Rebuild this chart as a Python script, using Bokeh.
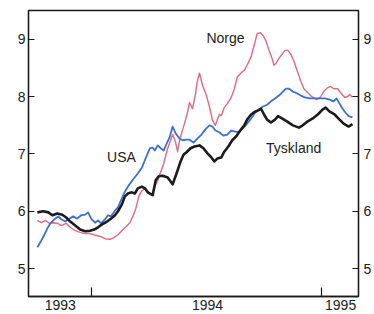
from bokeh.plotting import figure
from bokeh.models import Range1d, LinearAxis, FixedTicker, Label
from bokeh.embed import file_html
from bokeh.resources import INLINE

# ---- data (decimal years, interest rate %) ----
tysk_t = [1992.534, 1992.586, 1992.629, 1992.664, 1992.707, 1992.750, 1992.784, 1992.819, 1992.862, 1992.905,
          1992.948, 1992.991, 1993.026, 1993.060, 1993.095, 1993.138, 1993.172, 1993.207, 1993.233, 1993.267,
          1993.293, 1993.319, 1993.353, 1993.379, 1993.405, 1993.440, 1993.466, 1993.491, 1993.534, 1993.560,
          1993.586, 1993.621, 1993.664, 1993.707, 1993.741, 1993.776, 1993.802, 1993.828, 1993.862, 1993.897,
          1993.940, 1993.974, 1994.009, 1994.043, 1994.069, 1994.095, 1994.129, 1994.155, 1994.190, 1994.224,
          1994.259, 1994.293, 1994.328, 1994.353, 1994.388, 1994.422, 1994.448, 1994.474, 1994.500, 1994.526,
          1994.560, 1994.595, 1994.621, 1994.655, 1994.698, 1994.750, 1994.802, 1994.836, 1994.879, 1994.922,
          1994.966, 1995.009, 1995.034, 1995.069, 1995.112, 1995.155, 1995.190, 1995.233, 1995.267]
tysk_v = [5.98, 6.00, 5.98, 5.93, 5.96, 5.94, 5.89, 5.82, 5.75, 5.68,
          5.65, 5.66, 5.68, 5.72, 5.77, 5.82, 5.87, 5.93, 6.00, 6.12,
          6.26, 6.31, 6.33, 6.31, 6.40, 6.43, 6.40, 6.33, 6.28, 6.54,
          6.61, 6.62, 6.59, 6.47, 6.66, 6.87, 6.99, 7.03, 7.10, 7.13,
          7.15, 7.10, 7.01, 6.94, 6.87, 6.92, 6.94, 7.04, 7.13, 7.24,
          7.31, 7.41, 7.50, 7.60, 7.69, 7.74, 7.76, 7.79, 7.69, 7.60,
          7.55, 7.60, 7.66, 7.62, 7.57, 7.50, 7.46, 7.50, 7.57, 7.62,
          7.69, 7.78, 7.81, 7.74, 7.69, 7.60, 7.53, 7.48, 7.52]

usa_t = [1992.534, 1992.569, 1992.595, 1992.621, 1992.647, 1992.681, 1992.716, 1992.741, 1992.776, 1992.810,
         1992.845, 1992.879, 1992.914, 1992.948, 1992.974, 1993.000, 1993.034, 1993.060, 1993.086, 1993.121,
         1993.147, 1993.172, 1993.207, 1993.233, 1993.259, 1993.284, 1993.319, 1993.362, 1993.405, 1993.440,
         1993.466, 1993.491, 1993.509, 1993.534, 1993.552, 1993.578, 1993.603, 1993.629, 1993.655, 1993.681,
         1993.707, 1993.733, 1993.767, 1993.793, 1993.828, 1993.853, 1993.888, 1993.922, 1993.957, 1993.991,
         1994.026, 1994.052, 1994.078, 1994.112, 1994.147, 1994.181, 1994.216, 1994.250, 1994.284, 1994.319,
         1994.353, 1994.388, 1994.422, 1994.457, 1994.491, 1994.526, 1994.560, 1994.595, 1994.629, 1994.664,
         1994.690, 1994.716, 1994.750, 1994.784, 1994.819, 1994.853, 1994.897, 1994.940, 1994.983, 1995.026,
         1995.069, 1995.103, 1995.129, 1995.155, 1995.181, 1995.207, 1995.233, 1995.267]
usa_v = [5.37, 5.49, 5.59, 5.70, 5.79, 5.86, 5.91, 5.86, 5.82, 5.87,
         5.91, 5.87, 5.93, 5.94, 5.98, 5.87, 5.80, 5.84, 5.79, 5.86,
         5.93, 5.91, 6.01, 6.07, 6.19, 6.31, 6.43, 6.55, 6.66, 6.76,
         6.89, 7.01, 7.10, 7.11, 7.06, 7.15, 7.10, 7.06, 7.18, 7.29,
         7.48, 7.36, 7.27, 7.24, 7.25, 7.25, 7.20, 7.27, 7.34, 7.43,
         7.50, 7.48, 7.41, 7.38, 7.32, 7.34, 7.41, 7.39, 7.38, 7.45,
         7.53, 7.62, 7.72, 7.78, 7.83, 7.86, 7.92, 7.97, 8.02, 8.09,
         8.14, 8.14, 8.09, 8.06, 8.02, 7.99, 7.97, 7.97, 7.97, 7.97,
         7.95, 7.92, 7.97, 7.88, 7.79, 7.72, 7.66, 7.64]

norge_t = [1992.534, 1992.569, 1992.603, 1992.638, 1992.672, 1992.707, 1992.741, 1992.784, 1992.819, 1992.862,
           1992.905, 1992.948, 1992.991, 1993.034, 1993.078, 1993.121, 1993.164, 1993.198, 1993.233, 1993.267,
           1993.302, 1993.336, 1993.362, 1993.388, 1993.414, 1993.440, 1993.474, 1993.500, 1993.526, 1993.552,
           1993.578, 1993.603, 1993.629, 1993.647, 1993.664, 1993.690, 1993.707, 1993.733, 1993.750, 1993.767,
           1993.784, 1993.810, 1993.836, 1993.853, 1993.879, 1993.905, 1993.922, 1993.940, 1993.966, 1994.000,
           1994.026, 1994.052, 1994.078, 1994.095, 1994.112, 1994.129, 1994.155, 1994.181, 1994.216, 1994.241,
           1994.267, 1994.302, 1994.328, 1994.353, 1994.388, 1994.414, 1994.440, 1994.466, 1994.491, 1994.517,
           1994.543, 1994.569, 1994.586, 1994.603, 1994.629, 1994.655, 1994.681, 1994.707, 1994.733, 1994.759,
           1994.793, 1994.819, 1994.845, 1994.879, 1994.914, 1994.957, 1994.991, 1995.017, 1995.052, 1995.078,
           1995.103, 1995.138, 1995.164, 1995.198, 1995.224, 1995.241, 1995.267]
norge_v = [5.84, 5.80, 5.84, 5.79, 5.80, 5.79, 5.75, 5.79, 5.72, 5.66,
           5.63, 5.61, 5.61, 5.58, 5.56, 5.52, 5.51, 5.54, 5.59, 5.66,
           5.73, 5.80, 5.91, 6.05, 6.26, 6.36, 6.40, 6.33, 6.28, 6.43,
           6.54, 6.68, 6.83, 6.97, 7.10, 7.24, 7.34, 7.20, 7.04, 7.24,
           7.36, 7.53, 7.72, 7.90, 7.79, 8.04, 8.28, 8.41, 8.20, 8.02,
           7.83, 7.59, 7.50, 7.60, 7.69, 7.67, 7.81, 7.88, 7.99, 8.13,
           8.34, 8.42, 8.46, 8.55, 8.70, 8.90, 9.10, 9.12, 9.07, 8.97,
           8.81, 8.67, 8.55, 8.58, 8.67, 8.74, 8.81, 8.81, 8.74, 8.62,
           8.42, 8.27, 8.14, 8.07, 8.00, 7.95, 8.00, 8.09, 8.16, 8.18,
           8.14, 8.14, 8.07, 7.99, 8.00, 8.04, 7.99]

y_ticks = [5, 6, 7, 8, 9]
year_tick_marks = [1993.0, 1995.0]
year_label_pos = [1992.733, 1994.009, 1995.164]
year_labels = ["1993", "1994", "1995"]

series_names = ["Norge", "USA", "Tyskland"]
name_pos_t = [1994.0, 1993.138, 1994.517]
name_pos_v = [9.02, 6.94, 7.10]

FONT = "Liberation Sans"
TXT = "#222222"

p = figure(width=374, height=314, output_backend="svg", toolbar_location=None,
           x_range=Range1d(1992.457, 1995.319), y_range=Range1d(4.511, 9.506),
           min_border_left=28, min_border_right=14, min_border_top=10, min_border_bottom=18,
           x_axis_type=None, y_axis_type=None)
p.background_fill_color = "white"
p.border_fill_color = "white"
p.grid.visible = False
p.outline_line_color = "#1a1a1a"
p.outline_line_width = 1.3


def style_y(ax):
    ax.ticker = FixedTicker(ticks=y_ticks)
    ax.major_tick_in = 6
    ax.major_tick_out = 0
    ax.minor_tick_line_color = None
    ax.axis_line_color = "#1a1a1a"
    ax.axis_line_width = 1.3
    ax.major_tick_line_color = "#1a1a1a"
    ax.major_tick_line_width = 1.2
    ax.major_label_text_font = FONT
    ax.major_label_text_font_size = "14px"
    ax.major_label_text_color = TXT
    ax.major_label_standoff = 3


yl = LinearAxis()
style_y(yl)
p.add_layout(yl, "left")
yr = LinearAxis()
style_y(yr)
yr.major_label_standoff = 5
p.add_layout(yr, "right")

xa = LinearAxis()
xa.ticker = FixedTicker(ticks=year_label_pos, minor_ticks=year_tick_marks)
xa.major_label_overrides = {pos: lab for pos, lab in zip(year_label_pos, year_labels)}
xa.major_tick_line_color = None
xa.major_tick_in = 0
xa.major_tick_out = 0
xa.minor_tick_in = 9
xa.minor_tick_out = 0
xa.minor_tick_line_color = "#1a1a1a"
xa.minor_tick_line_width = 1.2
xa.axis_line_color = "#1a1a1a"
xa.axis_line_width = 1.3
xa.major_label_text_font = FONT
xa.major_label_text_font_size = "14px"
xa.major_label_text_color = TXT
xa.major_label_standoff = 3
p.add_layout(xa, "below")

p.line(norge_t, norge_v, line_color="#e8677f", line_width=1.4, line_join="round")
p.line(usa_t, usa_v, line_color="#3b6fd4", line_width=1.8, line_join="round")
p.line(tysk_t, tysk_v, line_color="#1c1c1c", line_width=2.6, line_join="round")

for name, tx, vy in zip(series_names, name_pos_t, name_pos_v):
    p.add_layout(Label(x=tx, y=vy, text=name, text_font=FONT, text_font_size="14px",
                       text_color=TXT, text_align="left", text_baseline="alphabetic"))

open("out.html", "w").write(file_html(p, INLINE))
